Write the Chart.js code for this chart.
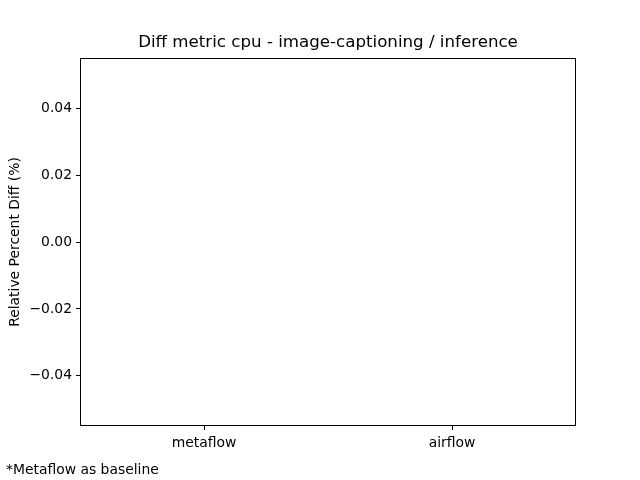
<!DOCTYPE html>
<html>
<head>
<meta charset="utf-8">
<script src="https://cdn.jsdelivr.net/npm/chart.js@4/dist/chart.umd.min.js"></script>
<style>
  html, body { margin: 0; padding: 0; background: #fff; }
  #wrap { width: 640px; height: 480px; }
</style>
</head>
<body>
<div id="wrap"><canvas id="diffChart" width="640" height="480"></canvas></div>
<script>
// values: both diffs are zero, so no bar shows
var categories = ['metaflow', 'airflow'];
var diffValues = [0, 0];
var yTicks = [-0.04, -0.02, 0.00, 0.02, 0.04];

var titleText = 'Diff metric cpu - image-captioning / inference';
var yLabel = 'Relative Percent Diff (%)';
var footNote = '*Metaflow as baseline';
var FONT = 'DejaVu Sans';

// frame + title + footnote, matplotlib style
var framePlugin = {
    id: 'frame',
    afterDraw: function (chart) {
        var c = chart.ctx, a = chart.chartArea;
        c.save();
        c.strokeStyle = '#000';
        c.lineWidth = 1;
        c.strokeRect(a.left + 0.5, a.top + 0.5, a.right - a.left - 1, a.bottom - a.top - 1);
        c.fillStyle = '#000';
        c.textAlign = 'center';
        c.textBaseline = 'middle';
        c.font = '16.67px "' + FONT + '"';
        c.fillText(titleText, (a.left + a.right) / 2, 43);
        c.font = '13.9px "' + FONT + '"';
        c.textAlign = 'left';
        c.fillText(footNote, 6, 470);
        c.translate(15, (a.top + a.bottom) / 2);
        c.rotate(-Math.PI / 2);
        c.textAlign = 'center';
        c.fillText(yLabel, 0, 0);
        c.restore();
    }
};

var ctx = document.getElementById('diffChart');
var chart = new Chart(ctx, {
    type: 'bar',
    data: {
        labels: categories,
        datasets: [{
            label: 'diff',
            data: diffValues,
            backgroundColor: '#1f77b4',
            borderWidth: 0
        }]
    },
    options: {
        responsive: false,
        animation: false,
        devicePixelRatio: 1,
        layout: { padding: { left: 0, right: 64, top: 58, bottom: 0 } },
        plugins: {
            legend: { display: false },
            title: { display: false },
            tooltip: { enabled: false }
        },
        scales: {
            x: {
                offset: true,
                grid: { display: true, drawOnChartArea: false, drawTicks: true, tickLength: 4, color: '#000', offset: false },
                border: { display: false },
                ticks: { color: '#000', font: { family: FONT, size: 13.9 }, padding: 5 },
                afterFit: function (s) { s.height = 54; }
            },
            y: {
                min: -0.055,
                max: 0.055,
                afterBuildTicks: function (s) {
                    s.ticks = yTicks.map(function (v) { return { value: v }; });
                },
                grid: { display: true, drawOnChartArea: false, drawTicks: true, tickLength: 4, color: '#000' },
                border: { display: false },
                ticks: {
                    color: '#000',
                    font: { family: FONT, size: 13.9 },
                    padding: 4,
                    callback: function (v) { return v.toFixed(2).replace('-', '\u2212'); }
                },
                afterFit: function (s) { s.width = 80; }
            }
        }
    },
    plugins: [framePlugin]
});
</script>
</body>
</html>
